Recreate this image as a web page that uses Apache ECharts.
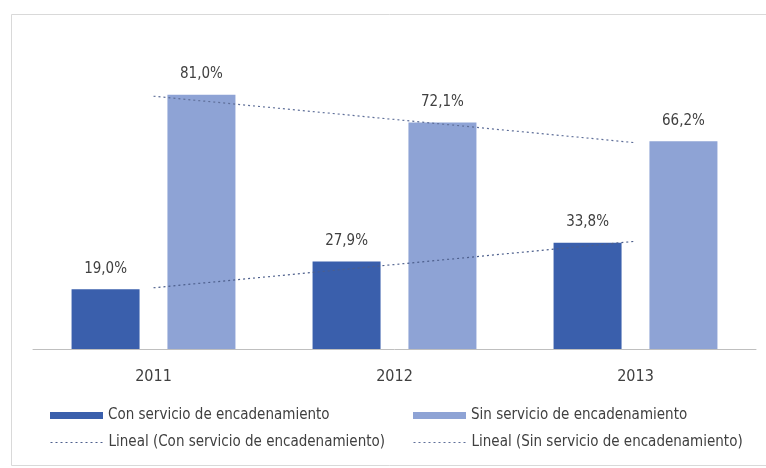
<!DOCTYPE html>
<html>
<head>
<meta charset="utf-8">
<script src="https://cdn.jsdelivr.net/npm/echarts@6/dist/echarts.min.js"></script>
<style>
  html, body { margin: 0; padding: 0; background: #ffffff; }
  #chart { width: 766px; height: 468px; }
</style>
</head>
<body>
<div id="chart"></div>
<script>
// Años
const years = ['2011', '2012', '2013'];
// Porcentaje de empresas con / sin servicio de encadenamiento
const conServicio = [19.0, 27.9, 33.8];
const sinServicio = [81.0, 72.1, 66.2];
// Tendencia lineal de cada serie
const tendenciaCon = [19.5, 26.9, 34.3];
const tendenciaSin = [80.5, 73.1, 65.7];

const nameCon = 'Con servicio de encadenamiento';
const nameSin = 'Sin servicio de encadenamiento';
const nameTCon = 'Lineal (Con servicio de encadenamiento)';
const nameTSin = 'Lineal (Sin servicio de encadenamiento)';

const FONT = '"Liberation Sans Narrow", "DejaVu Sans Condensed", "Open Sans", sans-serif';
const fmt = v => v.toFixed(1).replace('.', ',') + '%';

function legendAt(left, top, name, isLine) {
  const lg = {
    left: left, top: top, data: [name],
    itemWidth: 53, itemHeight: isLine ? 2 : 7, itemGap: 8,
    textStyle: { fontFamily: FONT, fontSize: 15, color: '#404040' }
  };
  if (isLine) {
    lg.itemStyle = { opacity: 0 };
    lg.lineStyle = { width: 1, type: [2, 3] };
  } else {
    lg.icon = 'rect';
  }
  return lg;
}

const chart = echarts.init(document.getElementById('chart'), null, { renderer: 'canvas' });
chart.setOption({
  animation: false,
  backgroundColor: '#ffffff',
  graphic: [{
    type: 'rect', left: 9, top: 12,
    shape: { width: 770, height: 451 },
    style: { fill: 'none', stroke: '#d9d9d9', lineWidth: 1 }
  }],
  grid: { left: 33, right: 10, top: 35, bottom: 119, containLabel: false },
  legend: [
    legendAt(45, 403, nameCon, false),
    legendAt(408, 403, nameSin, false),
    legendAt(45, 430, nameTCon, true),
    legendAt(408, 430, nameTSin, true)
  ],
  xAxis: {
    type: 'category',
    data: years,
    axisLine: { lineStyle: { color: '#bfbfbf', width: 1 } },
    axisTick: { show: false },
    axisLabel: { fontFamily: FONT, fontSize: 16, color: '#404040', margin: 20 }
  },
  yAxis: {
    type: 'value', min: 0, max: 100,
    show: false, splitLine: { show: false }
  },
  series: [
    {
      name: nameCon, type: 'bar', data: conServicio,
      barWidth: 68, barGap: '41%',
      itemStyle: { color: '#3a5fac' },
      label: {
        show: true, position: 'top', distance: 13,
        fontFamily: FONT, fontSize: 15, color: '#404040',
        formatter: p => fmt(p.value)
      }
    },
    {
      name: nameSin, type: 'bar', data: sinServicio,
      barWidth: 68,
      itemStyle: { color: '#8ea3d5' },
      label: {
        show: true, position: 'top', distance: 13,
        fontFamily: FONT, fontSize: 15, color: '#404040',
        formatter: p => fmt(p.value)
      }
    },
    {
      name: nameTCon, type: 'line', data: tendenciaCon,
      symbol: 'none', z: 5,
      lineStyle: { color: '#4d5f8c', width: 1.2, type: [2, 3] },
      itemStyle: { color: '#4d5f8c' }
    },
    {
      name: nameTSin, type: 'line', data: tendenciaSin,
      symbol: 'none', z: 5,
      lineStyle: { color: '#5f6f99', width: 1.2, type: [2, 3] },
      itemStyle: { color: '#5f6f99' }
    }
  ]
});
</script>
</body>
</html>
